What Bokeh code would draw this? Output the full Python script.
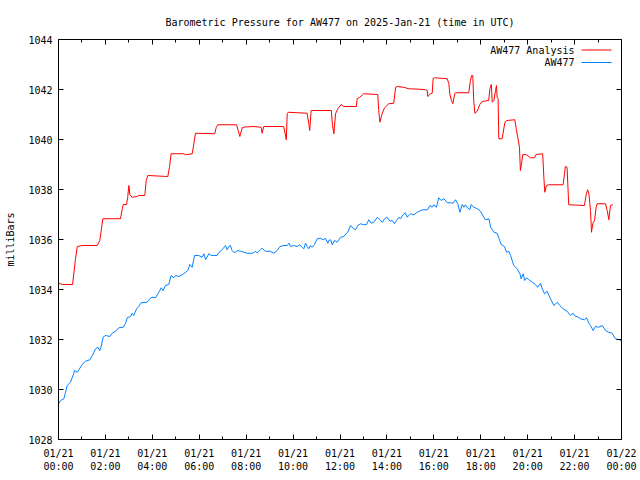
import math
from bokeh.plotting import figure
from bokeh.models import Range1d, LinearAxis, FixedTicker, Label
from bokeh.embed import file_html
from bokeh.resources import INLINE

FONT = "DejaVu Sans Mono"

title_text = "Barometric Pressure for AW477 on 2025-Jan-21 (time in UTC)"
y_label = "milliBars"
series_names = ["AW477 Analysis", "AW477"]

x_ticks = [0, 2, 4, 6, 8, 10, 12, 14, 16, 18, 20, 22, 24]
x_minor = [1, 3, 5, 7, 9, 11, 13, 15, 17, 19, 21, 23]
x_tick_labels = ["01/21\n00:00", "01/21\n02:00", "01/21\n04:00", "01/21\n06:00",
                 "01/21\n08:00", "01/21\n10:00", "01/21\n12:00", "01/21\n14:00",
                 "01/21\n16:00", "01/21\n18:00", "01/21\n20:00", "01/21\n22:00",
                 "01/22\n00:00"]
y_ticks = [1028, 1030, 1032, 1034, 1036, 1038, 1040, 1042, 1044]

# Analysis (red), hours since 00:00 UTC
red_t = [0.00, 0.17, 0.60, 0.72, 0.80, 1.01, 1.65, 1.76, 1.82, 1.89, 2.64, 2.72, 2.76, 2.90,
         2.95, 3.00, 3.04, 3.14, 3.35, 3.42, 3.68, 3.74, 3.81, 4.66, 4.73, 4.80, 5.34, 5.41,
         5.70, 5.77, 5.84, 6.66, 6.72, 6.79, 7.59, 7.66, 7.73, 7.83, 7.94, 8.33, 8.64, 8.68,
         8.75, 9.60, 9.65, 9.71, 9.75, 9.79, 10.60, 10.67, 10.71, 10.77, 11.63, 11.68, 11.74,
         11.81, 11.91, 12.05, 12.16, 12.70, 12.73, 12.84, 13.01, 13.61, 13.65, 13.70, 13.80,
         13.90, 14.08, 14.29, 14.37, 14.44, 14.72, 14.93, 15.43, 15.65, 15.72, 15.74, 15.86,
         15.93, 15.97, 16.03, 16.57, 16.64, 16.68, 16.75, 16.81, 16.89, 16.92, 17.49, 17.56,
         17.61, 17.66, 17.70, 17.75, 17.85, 17.96, 18.06, 18.34, 18.39, 18.45, 18.49, 18.56,
         18.63, 18.67, 18.70, 18.74, 18.77, 18.91, 19.03, 19.10, 19.45, 19.52, 19.58, 19.65,
         19.69, 19.74, 19.79, 19.95, 20.12, 20.29, 20.36, 20.64, 20.69, 20.73, 20.80, 20.90,
         21.51, 21.57, 21.61, 21.68, 21.75, 22.42, 22.50, 22.56, 22.61, 22.68, 22.72, 22.78,
         22.85, 22.92, 22.96, 23.32, 23.39, 23.46, 23.53, 23.63]
red_p = [1034.25, 1034.20, 1034.20, 1035.19, 1035.72, 1035.76, 1035.76, 1035.96, 1036.36,
         1036.83, 1036.83, 1037.23, 1037.40, 1037.40, 1037.69, 1038.16, 1037.80, 1037.69,
         1037.72, 1037.76, 1037.76, 1038.36, 1038.56, 1038.52, 1038.89, 1039.43, 1039.43,
         1039.39, 1039.43, 1039.83, 1040.25, 1040.23, 1040.47, 1040.59, 1040.59, 1040.36,
         1040.12, 1040.47, 1040.50, 1040.52, 1040.49, 1040.25, 1040.52, 1040.52, 1040.29,
         1039.99, 1041.03, 1041.09, 1041.05, 1040.63, 1040.36, 1041.16, 1041.16, 1040.56,
         1040.23, 1041.03, 1041.23, 1041.40, 1041.32, 1041.32, 1041.63, 1041.69, 1041.83,
         1041.80, 1041.16, 1040.69, 1041.05, 1041.27, 1041.43, 1041.45, 1042.09, 1042.12,
         1042.09, 1042.03, 1042.01, 1041.99, 1041.96, 1041.72, 1041.83, 1041.85, 1042.43,
         1042.47, 1042.43, 1042.23, 1041.83, 1041.56, 1041.43, 1041.83, 1041.87, 1041.87,
         1042.36, 1042.56, 1042.56, 1041.56, 1041.05, 1041.13, 1041.40, 1041.52, 1041.56,
         1042.03, 1042.20, 1041.49, 1041.56, 1041.96, 1042.16, 1041.69, 1041.63, 1040.03,
         1040.03, 1040.69, 1040.76, 1040.79, 1040.39, 1040.07, 1039.69, 1038.76, 1039.03,
         1039.40, 1039.39, 1039.27, 1039.27, 1039.40, 1039.43, 1038.49, 1037.89, 1038.16,
         1038.19, 1038.19, 1038.63, 1038.92, 1038.89, 1037.39, 1037.36, 1037.83, 1037.99,
         1037.83, 1037.16, 1036.29, 1036.65, 1036.76, 1037.29, 1037.43, 1037.43, 1037.16,
         1036.79, 1037.36, 1037.39]

# Observed station pressure (blue)
blue_t = [0.00, 0.09, 0.23, 0.30, 0.37, 0.51, 0.65, 0.68, 0.80, 0.87, 1.01, 1.15, 1.34, 1.44,
          1.58, 1.68, 1.76, 1.82, 1.90, 2.00, 2.19, 2.29, 2.43, 2.57, 2.76, 2.86, 2.93, 3.07,
          3.14, 3.21, 3.33, 3.42, 3.52, 3.78, 3.89, 3.99, 4.14, 4.28, 4.38, 4.46, 4.56, 4.70,
          4.80, 4.92, 4.99, 5.13, 5.34, 5.51, 5.60, 5.70, 5.80, 5.98, 6.12, 6.20, 6.27, 6.41,
          6.51, 6.62, 6.76, 6.84, 6.93, 7.05, 7.12, 7.19, 7.26, 7.33, 7.40, 7.47, 7.55, 7.62,
          7.76, 7.90, 8.04, 8.26, 8.40, 8.47, 8.61, 8.68, 8.82, 9.04, 9.18, 9.32, 9.44, 9.61,
          9.75, 9.82, 9.89, 10.03, 10.17, 10.29, 10.39, 10.46, 10.53, 10.60, 10.67, 10.74,
          10.81, 10.91, 11.03, 11.17, 11.28, 11.38, 11.48, 11.52, 11.60, 11.67, 11.77, 11.88,
          11.95, 12.02, 12.16, 12.28, 12.33, 12.45, 12.59, 12.66, 12.76, 12.87, 13.02, 13.13,
          13.23, 13.33, 13.44, 13.59, 13.70, 13.80, 13.90, 14.01, 14.13, 14.22, 14.32, 14.41,
          14.51, 14.58, 14.69, 14.79, 14.86, 15.01, 15.15, 15.26, 15.43, 15.57, 15.74, 15.83,
          15.93, 16.00, 16.11, 16.21, 16.31, 16.43, 16.57, 16.71, 16.82, 16.92, 17.02, 17.11,
          17.21, 17.28, 17.35, 17.42, 17.54, 17.59, 17.71, 17.85, 17.99, 18.13, 18.20, 18.35,
          18.42, 18.56, 18.70, 18.81, 18.87, 19.01, 19.10, 19.20, 19.27, 19.34, 19.41, 19.55,
          19.67, 19.72, 19.81, 19.87, 19.95, 20.05, 20.19, 20.33, 20.43, 20.55, 20.62, 20.72,
          20.83, 20.97, 21.12, 21.26, 21.37, 21.51, 21.68, 21.83, 21.94, 22.04, 22.11, 22.25,
          22.42, 22.51, 22.61, 22.68, 22.79, 22.89, 23.03, 23.18, 23.32, 23.46, 23.60, 23.74,
          23.89, 24.00]
blue_p = [1029.43, 1029.56, 1029.63, 1029.89, 1030.16, 1030.29, 1030.63, 1030.76, 1030.69,
          1030.79, 1031.00, 1031.13, 1031.19, 1031.36, 1031.63, 1031.69, 1031.56, 1031.72,
          1032.09, 1032.16, 1032.12, 1032.25, 1032.33, 1032.47, 1032.49, 1032.65, 1032.87,
          1032.92, 1033.05, 1032.96, 1033.23, 1033.32, 1033.47, 1033.49, 1033.63, 1033.69,
          1033.67, 1033.89, 1034.07, 1033.96, 1034.16, 1034.20, 1034.56, 1034.47, 1034.56,
          1034.52, 1034.63, 1034.76, 1035.00, 1034.89, 1035.36, 1035.36, 1035.29, 1035.43,
          1035.19, 1035.43, 1035.36, 1035.36, 1035.36, 1035.49, 1035.56, 1035.67, 1035.76,
          1035.59, 1035.72, 1035.76, 1035.56, 1035.49, 1035.49, 1035.56, 1035.53, 1035.49,
          1035.45, 1035.45, 1035.52, 1035.47, 1035.59, 1035.65, 1035.53, 1035.53, 1035.45,
          1035.56, 1035.72, 1035.76, 1035.76, 1035.85, 1035.72, 1035.76, 1035.72, 1035.79,
          1035.69, 1035.63, 1035.85, 1035.72, 1035.63, 1035.76, 1035.69, 1035.80, 1036.03,
          1036.05, 1035.99, 1036.05, 1035.85, 1035.96, 1035.99, 1035.79, 1035.96, 1035.89,
          1035.99, 1036.09, 1036.12, 1036.25, 1036.29, 1036.56, 1036.43, 1036.39, 1036.56,
          1036.63, 1036.59, 1036.60, 1036.79, 1036.65, 1036.69, 1036.89, 1036.79, 1036.69,
          1036.83, 1036.89, 1036.73, 1036.76, 1036.63, 1036.76, 1036.89, 1036.83, 1036.99,
          1037.07, 1036.89, 1037.03, 1036.99, 1037.07, 1037.16, 1037.19, 1037.19, 1037.36,
          1037.29, 1037.39, 1037.29, 1037.67, 1037.56, 1037.63, 1037.47, 1037.47, 1037.45,
          1037.59, 1037.43, 1037.09, 1037.40, 1037.29, 1037.39, 1037.29, 1037.19, 1037.40,
          1037.29, 1037.23, 1037.13, 1036.89, 1036.79, 1036.83, 1036.49, 1036.29, 1036.25,
          1035.96, 1035.80, 1035.72, 1035.49, 1035.53, 1035.36, 1035.16, 1034.96, 1034.83,
          1034.63, 1034.43, 1034.63, 1034.36, 1034.47, 1034.39, 1034.29, 1034.20, 1034.09,
          1034.25, 1034.03, 1033.83, 1033.93, 1033.63, 1033.36, 1033.49, 1033.36, 1033.23,
          1033.13, 1032.96, 1033.05, 1032.92, 1032.92, 1032.83, 1032.79, 1032.87, 1032.65,
          1032.56, 1032.36, 1032.52, 1032.49, 1032.56, 1032.36, 1032.29, 1032.25, 1032.03,
          1031.99, 1031.96]

RED = "#ff0000"
BLUE = "#0080ff"

X0, X1 = 0, 24
Y0, Y1 = 1028, 1044
FL, FR, FT, FB = 58, 621, 39, 439  # frame in pixels

p = figure(width=640, height=480, output_backend="svg", toolbar_location=None,
           x_range=Range1d(X0, X1), y_range=Range1d(Y0, Y1),
           min_border_left=FL, min_border_right=640 - FR,
           min_border_top=FT, min_border_bottom=480 - FB,
           x_axis_location=None, y_axis_location=None)
p.grid.grid_line_color = None
p.outline_line_color = None
p.background_fill_color = "white"
p.border_fill_color = "white"

p.title.text = title_text
p.title.align = "center"
p.title.text_font = FONT
p.title.text_font_size = "10px"
p.title.text_font_style = "normal"
p.title.text_color = "black"
p.title.standoff = 24
p.title.offset = 4


def style_axis(ax, show_labels):
    ax.axis_line_color = "black"
    ax.axis_line_width = 1
    ax.major_tick_line_color = "black"
    ax.minor_tick_line_color = "black"
    ax.major_tick_in = 5
    ax.major_tick_out = 0
    ax.minor_tick_in = 3
    ax.minor_tick_out = 0
    ax.major_label_text_font = FONT
    ax.major_label_text_color = "black"
    ax.major_label_text_font_size = "10px" if show_labels else "0px"


xt = FixedTicker(ticks=x_ticks, minor_ticks=x_minor)
yt = FixedTicker(ticks=y_ticks, minor_ticks=[])
overrides = {t: lab for t, lab in zip(x_ticks, x_tick_labels)}

bottom = LinearAxis(ticker=xt, major_label_overrides=overrides)
style_axis(bottom, True)
bottom.major_label_standoff = 8
top = LinearAxis(ticker=xt, major_label_overrides={t: "" for t in x_ticks})
style_axis(top, False)
top.major_label_standoff = 0
left = LinearAxis(ticker=yt)
style_axis(left, True)
left.major_label_standoff = 6
left.axis_label = y_label
left.axis_label_text_font = FONT
left.axis_label_text_font_size = "10px"
left.axis_label_text_font_style = "normal"
left.axis_label_text_color = "black"
left.axis_label_standoff = 9
right = LinearAxis(ticker=yt, major_label_overrides={t: "" for t in y_ticks})
style_axis(right, False)
p.add_layout(bottom, "below")
p.add_layout(top, "above")
p.add_layout(left, "left")
p.add_layout(right, "right")

p.line(red_t, red_p, line_color=RED, line_width=1)
p.line(blue_t, blue_p, line_color=BLUE, line_width=1)


def px2x(px):
    return X0 + (px - FL) / (FR - FL) * (X1 - X0)


def px2y(py):
    return Y0 + (FB - py) / (FB - FT) * (Y1 - Y0)


# legend (gnuplot style: text then sample line)
leg_rows = [49.5, 62.0]
for name, col, row in zip(series_names, [RED, BLUE], leg_rows):
    p.add_layout(Label(x=574 - FL, y=FB - row, x_units="screen", y_units="screen",
                       text=name, text_align="right", text_baseline="middle",
                       text_font=FONT, text_font_size="10px", text_color="black"))
    p.segment(x0=[px2x(581)], y0=[px2y(row)], x1=[px2x(611)], y1=[px2y(row)],
              line_color=col, line_width=1)

open("out.html", "w").write(file_html(p, INLINE))
